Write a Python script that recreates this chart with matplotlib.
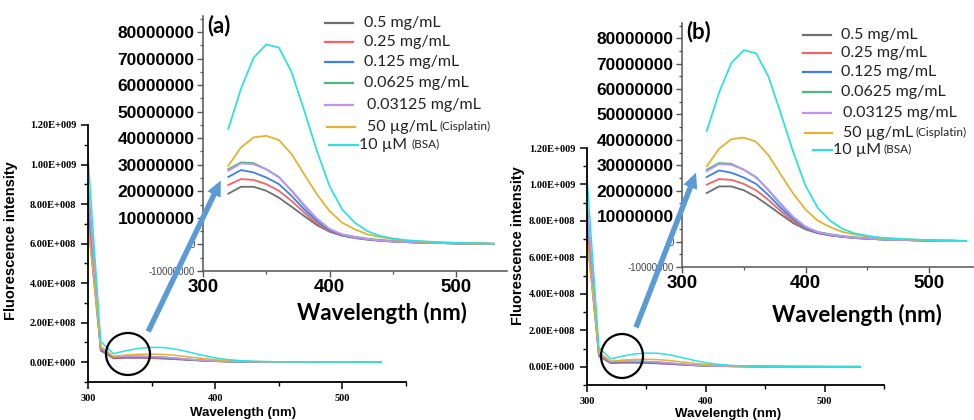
import matplotlib
matplotlib.use("Agg")
import matplotlib.pyplot as plt
import numpy as np
from matplotlib.ticker import MultipleLocator, FuncFormatter
from matplotlib.patches import Ellipse, FancyArrowPatch
from matplotlib.lines import Line2D

# wavelength (nm) and intensities (in units of 1e6)
wavelength = [300, 310, 320, 330, 340, 350, 360, 370, 380, 390, 400, 410,
              420, 430, 440, 450, 460, 470, 480, 490, 500, 510, 520, 530]

gray_05 = [720, 58, 19.1, 21.7, 21.7, 20.2, 17.6, 14.2, 10.7, 7.3, 4.8, 3.3,
           2.4, 1.8, 1.4, 1.1, 0.9, 0.7, 0.6, 0.5, 0.4, 0.3, 0.3, 0.2]
red_025 = [780, 63, 22.4, 24.6, 24.3, 22.7, 20.2, 16.4, 12.0, 7.9, 5.0, 3.4,
           2.5, 1.9, 1.4, 1.1, 0.9, 0.7, 0.6, 0.5, 0.4, 0.3, 0.3, 0.2]
blue_0125 = [850, 68, 25.4, 28.0, 27.1, 25.2, 22.7, 18.3, 13.2, 8.8, 5.3, 3.5,
             2.6, 2.0, 1.5, 1.2, 0.9, 0.7, 0.6, 0.5, 0.4, 0.3, 0.3, 0.2]
green_00625 = [900, 75, 28.3, 30.9, 30.6, 28.3, 25.4, 20.2, 14.5, 9.4, 5.7, 3.8,
               2.9, 2.2, 1.7, 1.3, 1.0, 0.8, 0.6, 0.5, 0.4, 0.3, 0.3, 0.2]
purple_003125 = [880, 72, 27.7, 30.5, 30.2, 28.3, 25.2, 20.4, 14.9, 9.8, 5.9, 3.7,
                 2.7, 2.0, 1.5, 1.2, 0.9, 0.7, 0.6, 0.5, 0.4, 0.3, 0.3, 0.2]
cisplatin = [700, 80, 29.6, 36.5, 40.3, 40.9, 39.3, 34.0, 26.4, 18.9, 12.6, 8.2,
             5.7, 3.8, 2.8, 2.0, 1.5, 1.1, 0.9, 0.7, 0.5, 0.4, 0.3, 0.3]
bsa = [1040, 105, 43.5, 58.6, 70.3, 75.3, 74.1, 64.9, 50.4, 35.3, 22.0, 13.2,
       8.2, 5.0, 3.2, 2.3, 1.6, 1.3, 1.0, 0.8, 0.6, 0.5, 0.4, 0.3]

series = [gray_05, red_025, blue_0125, green_00625, purple_003125, cisplatin, bsa]
colors = ["#6e6e6e", "#f26464", "#3f7fe8", "#4cb879", "#c491f5", "#e2b232", "#2fe0e0"]
labels = ["0.5 mg/mL", "0.25 mg/mL", "0.125 mg/mL", "0.0625 mg/mL",
          "0.03125 mg/mL", "50 \u00b5g/mL", "10 \u00b5M"]
suffixes = [None, None, None, None, None, "(Cisplatin)", "(BSA)"]

W, H = 974, 420
fig = plt.figure(figsize=(W / 100, H / 100), dpi=100)


def fx(px):
    return px / W


def fy(py):
    return 1 - py / H


def sci_fmt(v, pos):
    if v == 0:
        return "0.00E+000"
    e = int(np.floor(np.log10(abs(v))))
    return "%.2fE+%03d" % (v / 10 ** e, e)


def draw_panel(main_px, inset_px, inset_xmax, tag, tag_xy, ylab_xy, xlab_xy,
               ixlab_xy, leg_lines, leg_y, leg_tx, suf_x, arrow, circle):
    # main axes
    l, r, t, b = main_px
    ax = fig.add_axes([fx(l), fy(b), fx(r - l), (b - t) / H])
    for s, c in zip(series, colors):
        ax.plot(wavelength, np.array(s) * 1e6, color=c, lw=1.1)
    ax.set_xlim(300, 550)
    ax.set_ylim(-1e8, 1.2e9)
    ax.spines[["top", "right"]].set_visible(False)
    ax.spines[["left", "bottom"]].set_linewidth(1.3)
    ax.set_yticks(np.arange(0, 1.21e9, 2e8))
    ax.yaxis.set_minor_locator(MultipleLocator(1e8))
    ax.yaxis.set_major_formatter(FuncFormatter(sci_fmt))
    ax.set_xticks([300, 400, 500])
    ax.xaxis.set_minor_locator(MultipleLocator(50))
    ax.tick_params(which="major", length=5, width=1.1)
    ax.tick_params(which="minor", length=3, width=1.0)
    for lbl in ax.get_xticklabels() + ax.get_yticklabels():
        lbl.set_fontfamily("Liberation Serif")
        lbl.set_fontweight("bold")
        lbl.set_fontsize(7.5)
    ax.set_ylabel("Fluorescence intensity", fontsize=10.5, fontweight="bold",
                  family="Liberation Sans")
    ax.yaxis.set_label_coords(*ylab_xy)
    ax.set_xlabel("Wavelength (nm)", fontsize=9.5, fontweight="bold",
                  family="Liberation Sans")
    ax.xaxis.set_label_coords(*xlab_xy)

    # inset axes
    l, t, b = inset_px
    ix = fig.add_axes([fx(l), fy(b), 0.1, (b - t) / H])
    ix.set_xlim(300, inset_xmax)
    ix.set_ylim(-10e6, 86e6)
    ix.set_facecolor("none")
    for s, c in zip(series, colors):
        ix.plot(wavelength[2:], np.array(s[2:]) * 1e6, color=c, lw=1.3)
    ix.spines[["top", "right"]].set_visible(False)
    ix.spines[["left", "bottom"]].set_color("#555555")
    ix.spines[["left", "bottom"]].set_linewidth(1.1)
    ix.set_yticks(np.arange(-10e6, 81e6, 10e6))
    ix.yaxis.set_minor_locator(MultipleLocator(5e6))
    ix.yaxis.set_major_formatter(FuncFormatter(lambda v, p: "%d" % round(v)))
    ix.set_xticks([300, 400, 500])
    ix.xaxis.set_minor_locator(MultipleLocator(50))
    ix.tick_params(which="major", length=4, width=1.0, color="#555555", pad=2)
    ix.tick_params(which="minor", length=2.5, width=0.9, color="#555555")
    for tk in ix.yaxis.get_major_ticks():
        tk.label1.set_family("Liberation Sans")
        tk.label1.set_fontweight("bold")
        tk.label1.set_fontsize(12.5)
    for tk, v in zip(ix.yaxis.get_major_ticks(), ix.get_yticks()):
        if v <= 0:
            tk.label1.set_fontsize(7)
            tk.label1.set_fontweight("normal")
            tk.label1.set_color("#444444")
    for lbl in ix.get_xticklabels():
        lbl.set_family("Liberation Sans")
        lbl.set_fontweight("bold")
        lbl.set_fontsize(13.5)
    ix.set_xlabel("Wavelength (nm)", fontsize=16, fontweight="bold", family="Lato")
    ix.xaxis.set_label_coords(*ixlab_xy)

    fig.text(fx(tag_xy[0]), fy(tag_xy[1]), tag, fontsize=16, fontweight="bold",
             family="Lato", va="center", ha="left")

    # legend drawn by hand
    for (x0, x1), y, tx, c, lab, suf, sx in zip(leg_lines, leg_y, leg_tx, colors,
                                               labels, suffixes, suf_x):
        fig.add_artist(Line2D([fx(x0), fx(x1)], [fy(y), fy(y)], color=c, lw=1.6,
                              transform=fig.transFigure))
        fig.text(fx(tx), fy(y), lab, fontsize=11.5, family="Lato", va="center",
                 ha="left", color="#222222")
        if suf:
            fig.text(fx(sx), fy(y - 1), suf, fontsize=8.5, family="Lato",
                     va="center", ha="left", color="#222222")

    # arrow and circle
    (ax0, ay0), (ax1, ay1) = arrow
    fig.add_artist(FancyArrowPatch((fx(ax0), fy(ay0)), (fx(ax1), fy(ay1)),
                                   transform=fig.transFigure, color="#5b9bd5",
                                   arrowstyle="simple,tail_width=0.28,head_width=0.75,head_length=0.8",
                                   mutation_scale=14, lw=0))
    cx, cy, cw, ch = circle
    fig.add_artist(Ellipse((fx(cx), fy(cy)), cw / W, ch / H, fill=False,
                           ec="black", lw=1.6, transform=fig.transFigure))
    return ax, ix


# panel (a)
ax_a, ix_a = draw_panel(
    main_px=(88, 406, 125, 382), inset_px=(203, 16, 271), inset_xmax=540,
    tag="(a)", tag_xy=(207, 26), ylab_xy=(-0.22, 0.55), xlab_xy=(0.487, -0.098),
    ixlab_xy=(0.589, -0.12),
    leg_lines=[(325, 353)] * 5 + [(327, 355), (329, 358)],
    leg_y=[23, 42, 62, 83, 105, 127, 145],
    leg_tx=[364, 364, 364, 364, 367, 367, 359],
    suf_x=[0, 0, 0, 0, 0, 440, 411],
    arrow=((147, 334), (222, 178)), circle=(128, 354, 44, 42))
ix_a.set_position([fx(203), fy(271), (540 - 300) * 1.265 / W, 255 / H])

# panel (b)
ax_b, ix_b = draw_panel(
    main_px=(587, 884, 148, 385), inset_px=(682, 23, 267), inset_xmax=540,
    tag="(b)", tag_xy=(686, 32), ylab_xy=(-0.209, 0.59), xlab_xy=(0.475, -0.095),
    ixlab_xy=(0.59, -0.15),
    leg_lines=[(803, 831)] * 5 + [(805, 832), (813, 832)],
    leg_y=[35, 53, 72, 92, 113, 133, 150],
    leg_tx=[841, 841, 841, 841, 843, 843, 833],
    suf_x=[0, 0, 0, 0, 0, 915, 884],
    arrow=((635, 330), (697, 170)), circle=(622, 356, 42, 44))
ix_b.set_position([fx(682), fy(267), (540 - 300) * 1.235 / W, 244 / H])

fig.savefig("out.png", dpi=100)
